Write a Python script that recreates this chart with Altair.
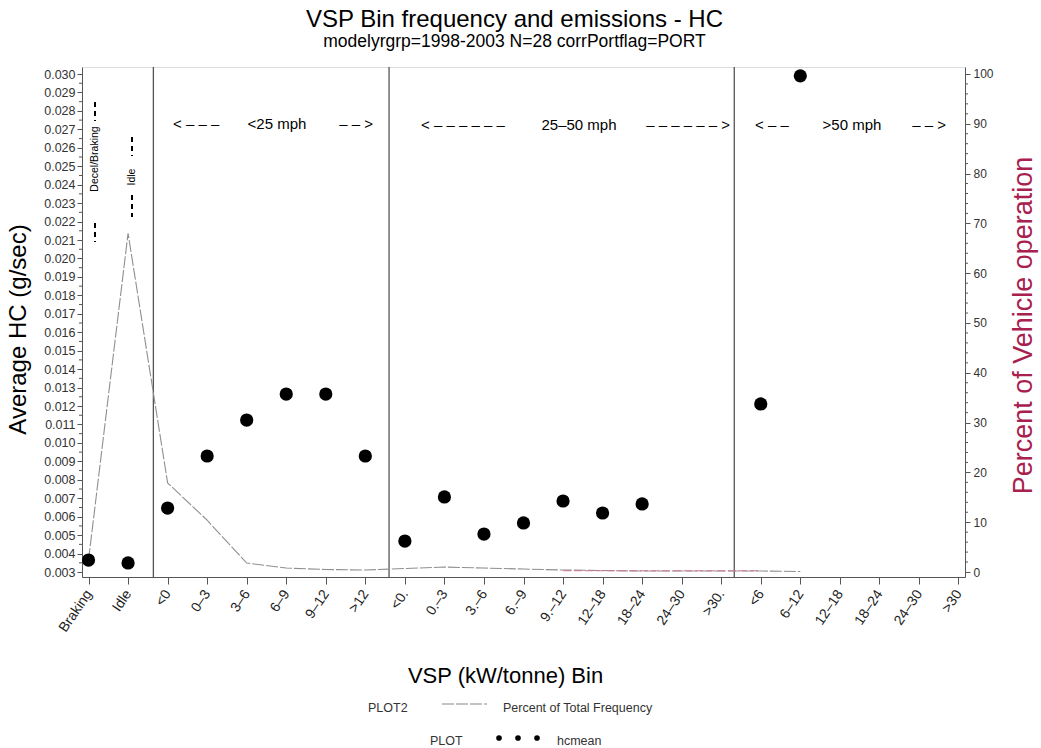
import json
import altair as alt
import numpy as np
import pandas as pd

# ---------------- data ----------------
categories = ["Braking", "Idle", "<0", "0–3", "3–6", "6–9", "9–12", ">12",
              "<0.", "0.–3", "3.–6", "6.–9", "9.–12", "12–18", "18–24", "24–30", ">30.",
              "<6", "6–12", "12–18", "18–24", "24–30", ">30"]

hc_idx = [0, 1, 2, 3, 4, 5, 6, 7, 8, 9, 10, 11, 12, 13, 14, 17, 18]
hc_mean = [0.00365, 0.00349, 0.00647, 0.00929, 0.01124, 0.01265, 0.01265, 0.00929,
           0.00468, 0.00707, 0.00506, 0.00566, 0.00685, 0.00620, 0.00669,
           0.01211, 0.02990]

pct_idx = [0, 1, 2, 3, 4, 5, 6, 7, 8, 9, 10, 11, 12, 13, 14, 15, 16, 17, 18]
pct_freq = [2.4, 68.0, 17.9, 10.4, 1.8, 0.8, 0.5, 0.4, 0.7, 1.0, 0.8, 0.6,
            0.4, 0.3, 0.2, 0.2, 0.2, 0.2, 0.1]

pink_idx = [12, 13, 14, 15, 16, 17]
pink_pct = [0.25, 0.25, 0.25, 0.25, 0.25, 0.25]

separators = [1.64, 7.6, 16.33]

# ---------------- layout ----------------
W, H = 883, 510
FONT = "Liberation Sans"
X_DOMAIN = [-0.165, 22.165]
YL_DOMAIN = [0.00273, 0.03038]
YR_DOMAIN = [-1.0, 101.4]

left_major = [round(0.003 + 0.001 * i, 3) for i in range(28)]
left_minor = [round(0.003 + 0.0005 * i, 4) for i in range(55) if i % 2 == 1]
right_major = [0, 10, 20, 30, 40, 50, 60, 70, 80, 90, 100]
right_minor = [v for v in range(0, 101, 2) if v % 10 != 0]

df_hc = pd.DataFrame({"idx": hc_idx, "hc": hc_mean})
df_pct = pd.DataFrame({"idx": pct_idx, "pct": pct_freq})
df_pink = pd.DataFrame({"idx": pink_idx, "pct": pink_pct})
df_sep = pd.DataFrame({"idx": separators})
df_lmin = pd.DataFrame({"v": left_minor})
df_rmin = pd.DataFrame({"v": right_minor})
one = pd.DataFrame({"a": [0]})

xscale = alt.Scale(domain=X_DOMAIN, nice=False, zero=False)
ylscale = alt.Scale(domain=YL_DOMAIN, nice=False, zero=False)
yrscale = alt.Scale(domain=YR_DOMAIN, nice=False, zero=False)

label_expr = json.dumps(categories, ensure_ascii=False) + "[datum.value]"

x_axis = alt.Axis(
    values=list(range(len(categories))), labelExpr=label_expr, grid=False,
    labelAngle=-56, labelAlign="right", labelBaseline="middle",
    labelFontSize=14, labelFont=FONT, labelColor="#222", labelPadding=7,
    tickSize=7, tickColor="#555", domainColor="#555",
    title="VSP (kW/tonne) Bin", titleFont=FONT, titleFontSize=22,
    titleFontWeight="normal", titleColor="black",
    titleX=423, titleY=105, titleAlign="center", titleBaseline="alphabetic",
    labelOverlap=False, labelFlush=False,
)

yl_axis = alt.Axis(
    values=left_major, format=".3f", orient="left", grid=False,
    labelFontSize=12.5, labelFont=FONT, labelColor="#333", labelPadding=2,
    tickSize=5, tickColor="#555", domainColor="#555",
    title="Average HC (g/sec)", titleFont=FONT, titleFontSize=24,
    titleFontWeight="normal", titleColor="black", titleAngle=270,
    titleX=-64, titleY=262, titleAlign="center", titleBaseline="middle",
    labelOverlap=False,
)

yr_axis = alt.Axis(
    values=right_major, format="d", orient="right", grid=False,
    labelFontSize=12, labelFont=FONT, labelColor="#333", labelPadding=3,
    tickSize=5, tickColor="#555", domainColor="#555",
    title="Percent of Vehicle operation", titleFont=FONT, titleFontSize=27,
    titleFontWeight="normal", titleColor="#A8204E", titleAngle=270,
    titleX=58, titleY=258, titleAlign="center", titleBaseline="middle",
    labelOverlap=False,
)

seps = alt.Chart(df_sep).mark_rule(color="#555", strokeWidth=1.3).encode(
    x=alt.X("idx:Q", scale=xscale)
)

line = alt.Chart(df_pct).mark_line(color="#8f8f8f", strokeWidth=1.1, strokeDash=[12, 2]).encode(
    x=alt.X("idx:Q", scale=xscale),
    y=alt.Y("pct:Q", scale=yrscale, axis=yr_axis),
)

pink = alt.Chart(df_pink).mark_line(color="#d07a90", strokeWidth=1.1, strokeDash=[8, 3]).encode(
    x=alt.X("idx:Q", scale=xscale),
    y=alt.Y("pct:Q", scale=yrscale, axis=None),
)

points = alt.Chart(df_hc).mark_circle(size=175, color="black", opacity=1).encode(
    x=alt.X("idx:Q", scale=xscale, axis=x_axis),
    y=alt.Y("hc:Q", scale=ylscale, axis=yl_axis),
)

lminor = alt.Chart(df_lmin).mark_rule(color="#555", strokeWidth=1).encode(
    x=alt.value(-3), x2=alt.value(0),
    y=alt.Y("v:Q", scale=ylscale, axis=None),
)

rminor = alt.Chart(df_rmin).mark_rule(color="#555", strokeWidth=1).encode(
    x=alt.value(W), x2=alt.value(W + 3),
    y=alt.Y("v:Q", scale=yrscale, axis=None),
)


def txt(t, x, y, size, align="center", angle=0, baseline="alphabetic",
        color="black", weight="normal"):
    return alt.Chart(one).mark_text(
        text=t, align=align, baseline=baseline, angle=angle, fontSize=size,
        font=FONT, color=color, fontWeight=weight,
    ).encode(x=alt.value(x), y=alt.value(y))


def vdash(x, y0, y1):
    return alt.Chart(one).mark_rule(color="black", strokeWidth=2, strokeDash=[5, 4]).encode(
        x=alt.value(x), y=alt.value(y0), y2=alt.value(y1)
    )


notes = [
    # region labels
    txt("< – – –", 91, 62, 15, align="left"),
    txt("<25 mph", 195, 62, 15),
    txt("– – >", 291, 62, 15, align="right"),
    txt("< – – – – – –", 339, 63, 15, align="left"),
    txt("25–50 mph", 497, 63, 15),
    txt("– – – – – – >", 648, 63, 15, align="right"),
    txt("< – –", 673, 63, 15, align="left"),
    txt(">50 mph", 770, 63, 15),
    txt("– – >", 864, 63, 15, align="right"),
    # vertical annotations
    vdash(13, 35, 54),
    txt("Decel/Braking", 13, 92, 10.5, angle=270, baseline="middle"),
    vdash(13, 156, 175),
    vdash(50, 70, 89),
    txt("Idle", 50, 110, 10.5, angle=270, baseline="middle"),
    vdash(50, 128, 150),
    # legend
    txt("PLOT2", 286, 645, 12.5, align="left", color="#333"),
    txt("Percent of Total Frequency", 421, 645, 12.5, align="left", color="#333"),
    txt("PLOT", 348, 678, 12.5, align="left", color="#333"),
    txt("hcmean", 475, 678, 12.5, align="left", color="#333"),
]

legend_line = alt.Chart(one).mark_rule(color="#888", strokeWidth=1.1, strokeDash=[12, 2]).encode(
    x=alt.value(360), x2=alt.value(405), y=alt.value(637)
)
legend_dots = [
    alt.Chart(one).mark_circle(size=32, color="black", opacity=1).encode(
        x=alt.value(px), y=alt.value(671)
    )
    for px in (417, 436, 455)
]

chart = alt.layer(
    seps, line, pink, points, lminor, rminor, legend_line, *legend_dots, *notes
).resolve_scale(
    y="independent"
).properties(
    width=W, height=H,
    padding={"left": 82, "top": 67, "right": 76, "bottom": 171},
    autosize=alt.AutoSizeParams(type="none"),
    title=alt.Title(
        text="VSP Bin frequency and emissions - HC",
        subtitle="modelyrgrp=1998-2003 N=28 corrPortflag=PORT",
        font=FONT, fontSize=24, fontWeight="normal", color="black",
        subtitleFont=FONT, subtitleFontSize=17.5, subtitleColor="black",
        subtitlePadding=1, anchor="middle", dx=-9, offset=16,
    ),
).configure_view(
    stroke="#444", strokeWidth=1
).configure(background="white")

chart.save("out.html", embed_options={"renderer": "svg", "actions": False})
